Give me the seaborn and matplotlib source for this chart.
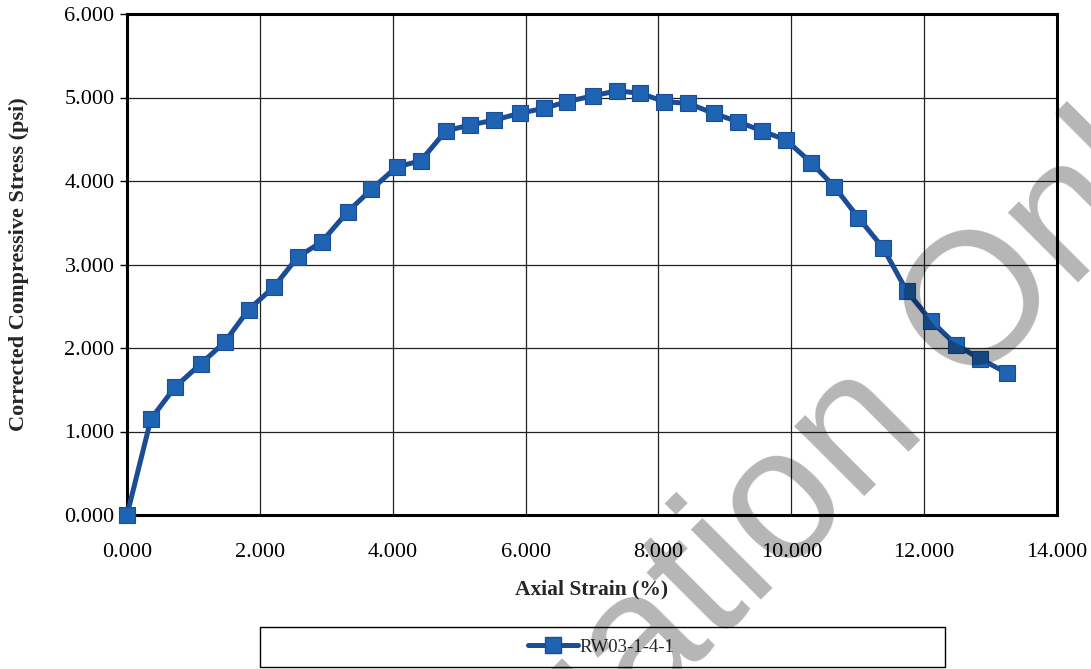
import numpy as np
import pandas as pd
import matplotlib
matplotlib.use("Agg")
import matplotlib.pyplot as plt
import seaborn as sns
from matplotlib.lines import Line2D
from matplotlib.patches import Rectangle

# valori
strain = [0.00, 0.36, 0.72, 1.11, 1.47, 1.83, 2.21, 2.57, 2.93, 3.32, 3.68, 4.06,
          4.42, 4.80, 5.16, 5.53, 5.91, 6.27, 6.63, 7.01, 7.38, 7.73, 8.09, 8.45,
          8.83, 9.20, 9.56, 9.92, 10.30, 10.65, 11.01, 11.38, 11.74, 12.11, 12.48,
          12.84, 13.25]
stress = [0.00, 1.15, 1.53, 1.81, 2.07, 2.46, 2.73, 3.09, 3.27, 3.63, 3.90, 4.17,
          4.24, 4.60, 4.67, 4.73, 4.81, 4.87, 4.95, 5.02, 5.08, 5.05, 4.95, 4.93,
          4.81, 4.71, 4.60, 4.49, 4.22, 3.93, 3.56, 3.20, 2.68, 2.32, 2.04,
          1.87, 1.70]
sample = "RW03-1-4-1"
x_ticks = [0, 2, 4, 6, 8, 10, 12, 14]
y_ticks = [0, 1, 2, 3, 4, 5, 6]

df = pd.DataFrame({"strain": strain, "stress": stress})

sns.set_theme(style="white")
plt.rcParams["font.family"] = ["Liberation Serif", "DejaVu Serif"]

line_col = "#1a4d96"
mark_col = "#1f63b3"

fig = plt.figure(figsize=(10.91, 6.69), dpi=100)
ax = fig.add_axes([127 / 1091, 1 - 515 / 669, 930 / 1091, 501 / 669])

sns.lineplot(data=df, x="strain", y="stress", ax=ax, color=line_col, linewidth=3.6,
             marker="s", markersize=11.5, markerfacecolor=mark_col,
             markeredgecolor=line_col, markeredgewidth=0.8, zorder=3, clip_on=False)

ax.set_xlim(0, 14)
ax.set_ylim(0, 6)
ax.set_xticks(x_ticks)
ax.set_yticks(y_ticks)
ax.set_xticklabels([f"{v:.3f}" for v in x_ticks])
ax.set_yticklabels([f"{v:.3f}" for v in y_ticks])
ax.grid(True, color="#222222", linewidth=0.9)
ax.tick_params(axis="x", length=0, pad=20, labelsize=16, colors="black")
ax.tick_params(axis="y", left=True, length=5, width=1, pad=4, labelsize=16,
               colors="black", direction="out")
for s in ax.spines.values():
    s.set_color("black")
    s.set_linewidth(2.2)

ax.set_xlabel("Axial Strain (%)", fontsize=15.5, fontweight="bold", labelpad=13)
ax.set_ylabel("Corrected Compressive Stress (psi)", fontsize=16, fontweight="bold")
ax.yaxis.set_label_coords(-0.105, 0.5)

# riquadro della legenda
fig.patches.append(Rectangle((260 / 1091, 1 - 667 / 669), 685 / 1091, 40 / 669,
                             transform=fig.transFigure, fill=False,
                             edgecolor="black", linewidth=1.0))
handle = Line2D([], [], color=line_col, linewidth=3.6, marker="s", markersize=11,
                markerfacecolor=mark_col, markeredgecolor=line_col)
fig.legend([handle], [sample], loc="center", bbox_to_anchor=(601 / 1091, 1 - 647 / 669),
           frameon=False, fontsize=13.5, handlelength=2.7, handletextpad=0.05)

# filigrana
fig.text(740 / 1091, 1 - 552 / 669, "Evaluation Only", fontsize=135,
         family="Liberation Sans", color="black", alpha=0.29, rotation=45,
         ha="center", va="center", zorder=10)

fig.savefig("out.png", dpi=100)
